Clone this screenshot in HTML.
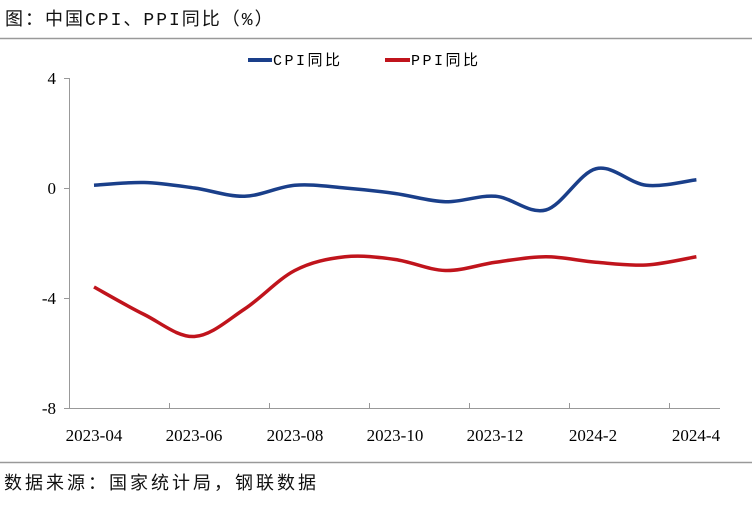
<!DOCTYPE html>
<html><head><meta charset="utf-8"><style>
body{margin:0;background:#fff;width:752px;height:500px;overflow:hidden}
</style></head><body>
<svg width="752" height="500" xmlns="http://www.w3.org/2000/svg">
<text x="5" y="25" font-family="Liberation Mono, Noto Sans CJK SC, monospace" font-size="18" letter-spacing="2" fill="#111">图：中国CPI、PPI同比（%）</text>
<line x1="0" y1="38.5" x2="752" y2="38.5" stroke="#999" stroke-width="1.5"/>
<line x1="0" y1="462.5" x2="752" y2="462.5" stroke="#999" stroke-width="1.5"/>
<text x="4" y="489" font-family="Liberation Mono, Noto Sans CJK SC, monospace" font-size="18" letter-spacing="3" fill="#111">数据来源：国家统计局，钢联数据</text>
<g stroke="#999" stroke-width="1" fill="none">
<line x1="69.5" y1="78" x2="69.5" y2="409"/>
<line x1="69" y1="408.5" x2="720" y2="408.5"/>
<line x1="64" y1="78.5" x2="69" y2="78.5"/><line x1="64" y1="188.5" x2="69" y2="188.5"/>
<line x1="64" y1="298.5" x2="69" y2="298.5"/><line x1="64" y1="408.5" x2="69" y2="408.5"/>
<line x1="169.5" y1="403" x2="169.5" y2="408"/><line x1="269.5" y1="403" x2="269.5" y2="408"/>
<line x1="369.5" y1="403" x2="369.5" y2="408"/><line x1="469.5" y1="403" x2="469.5" y2="408"/>
<line x1="569.5" y1="403" x2="569.5" y2="408"/><line x1="669.5" y1="403" x2="669.5" y2="408"/>
</g>
<g font-family="Liberation Serif, serif" font-size="17" fill="#000" text-anchor="end">
<text x="56" y="84">4</text><text x="56" y="194">0</text><text x="56" y="304">-4</text><text x="56" y="414">-8</text>
</g>
<g font-family="Liberation Serif, serif" font-size="17" fill="#000" text-anchor="middle">
<text x="94" y="441">2023-04</text><text x="194" y="441">2023-06</text><text x="295" y="441">2023-08</text>
<text x="395" y="441">2023-10</text><text x="495" y="441">2023-12</text><text x="593" y="441">2024-2</text><text x="696" y="441">2024-4</text>
</g>
<line x1="248" y1="60" x2="272" y2="60" stroke="#1a3f8a" stroke-width="4"/>
<text x="273" y="65" font-family="Liberation Mono, Noto Sans CJK SC, monospace" font-size="15" letter-spacing="2.5">CPI同比</text>
<line x1="385" y1="60" x2="410" y2="60" stroke="#c0141c" stroke-width="4"/>
<text x="411" y="65" font-family="Liberation Mono, Noto Sans CJK SC, monospace" font-size="15" letter-spacing="2.5">PPI同比</text>
<path id="cpi" fill="none" stroke="#1a3f8a" stroke-width="3.5"/>
<path id="ppi" fill="none" stroke="#c0141c" stroke-width="3.5"/>
</svg>
<script>
function path(d){
 var p=d.map(function(v,i){return [94+50.2*i,188-27.5*v]});
 var s="M"+p[0][0]+","+p[0][1];
 for(var i=0;i<p.length-1;i++){
  var p0=p[i-1]||p[i],p1=p[i],p2=p[i+1],p3=p[i+2]||p2;
  var c1=[p1[0]+(p2[0]-p0[0])/6,p1[1]+(p2[1]-p0[1])/6];
  var c2=[p2[0]-(p3[0]-p1[0])/6,p2[1]-(p3[1]-p1[1])/6];
  s+=" C"+c1+" "+c2+" "+p2;
 }
 return s;
}
document.getElementById("cpi").setAttribute("d",path([0.1,0.2,0.0,-0.3,0.1,0.0,-0.2,-0.5,-0.3,-0.8,0.7,0.1,0.3]));
document.getElementById("ppi").setAttribute("d",path([-3.6,-4.6,-5.4,-4.4,-3.0,-2.5,-2.6,-3.0,-2.7,-2.5,-2.7,-2.8,-2.5]));
</script>
</body></html>
